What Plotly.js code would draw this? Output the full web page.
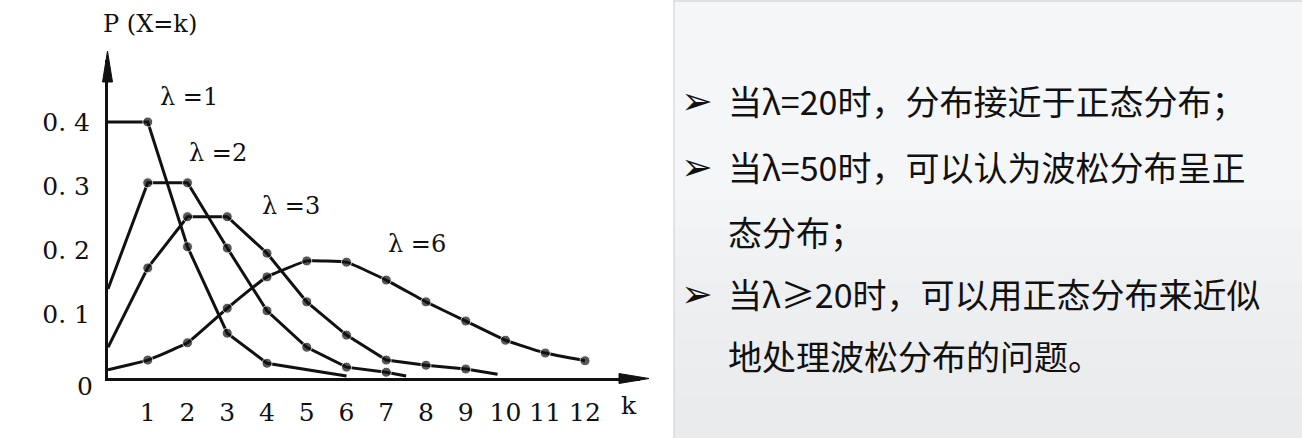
<!DOCTYPE html>
<html>
<head>
<meta charset="utf-8">
<script src="https://cdn.plot.ly/plotly-3.0.1.min.js"></script>
<style>
html,body{margin:0;padding:0;background:#ffffff;}
#chart{width:1302px;height:438px;}
</style>
</head>
<body>
<div id="chart"></div>
<script>
// ---- data ----
const lam1K = [0, 1, 2, 3, 4, 6];
const lam1P = [0.400, 0.400, 0.205, 0.070, 0.023, 0.003];
const lam2K = [0, 1, 2, 3, 4, 5, 6, 7, 7.5];
const lam2P = [0.139, 0.305, 0.305, 0.203, 0.105, 0.048, 0.017, 0.009, 0.003];
const lam3K = [0, 1, 2, 3, 4, 5, 6, 7, 8, 9, 9.8];
const lam3P = [0.048, 0.172, 0.252, 0.252, 0.195, 0.119, 0.067, 0.028, 0.020, 0.014, 0.006];
const lam6K = [0, 1, 2, 3, 4, 5, 6, 7, 8, 9, 10, 11, 12];
const lam6P = [0.013, 0.028, 0.055, 0.109, 0.158, 0.183, 0.181, 0.153, 0.119, 0.089, 0.059, 0.039, 0.027];
const curveNames = ["λ =1", "λ =2", "λ =3", "λ =6"];
const xTickVals = [1, 2, 3, 4, 5, 6, 7, 8, 9, 10, 11, 12];
const xTickText = ["1", "2", "3", "4", "5", "6", "7", "8", "9", "10", "11", "12"];
const yTickVals = [0.1, 0.2, 0.3, 0.4];
const yTickText = ["0. 1", "0. 2", "0. 3", "0. 4"];
const bulletLines = [
  "当λ=20时，分布接近于正态分布；",
  "当λ=50时，可以认为波松分布呈正",
  "态分布；",
  "当λ≥20时，可以用正态分布来近似",
  "地处理波松分布的问题。"
];
const hasBullet = [true, true, false, true, false];

// ---- layout geometry (pixels) ----
const W = 1302, H = 438;
const L = 108, R = 640, T = 60, B = 378;
const px = x => (x - L) / (R - L);
const py = y => (B - y) / (B - T);

function curve(k, p, tail, shape) {
  const last = k.length - 1;
  return {
    x: k, y: p, type: 'scatter', mode: 'lines+markers',
    line: {color: '#111111', width: 3, shape: shape || 'linear', smoothing: 0.3},
    marker: {color: '#111111', size: k.map((v, i) => (i === 0 || (tail && i === last)) ? 0 : 10)},
    hoverinfo: 'skip', showlegend: false, cliponaxis: false
  };
}

const traces = [
  curve(lam1K, lam1P, true),
  curve(lam2K, lam2P, true),
  curve(lam3K, lam3P, true),
  curve(lam6K, lam6P, false, 'spline')
];

const serif = 'DejaVu Serif, Liberation Serif, serif';
const cjk = 'Noto Sans CJK SC, sans-serif';

const annotations = [];
annotations.push({xref: 'paper', yref: 'paper', x: px(150), y: py(24), text: 'P (X=k)', showarrow: false,
  font: {family: serif, size: 24, color: '#111'}, xanchor: 'center', yanchor: 'middle'});
annotations.push({xref: 'paper', yref: 'paper', x: px(629), y: py(405), text: 'k', showarrow: false,
  font: {family: serif, size: 25, color: '#111'}, xanchor: 'center', yanchor: 'middle'});
annotations.push({xref: 'paper', yref: 'paper', x: px(85), y: py(386), text: '0', showarrow: false,
  font: {family: serif, size: 25, color: '#111'}, xanchor: 'center', yanchor: 'middle'});
const labelPos = [[189, 97], [218, 153], [291, 206], [417, 244]];
curveNames.forEach((t, i) => {
  annotations.push({xref: 'paper', yref: 'paper', x: px(labelPos[i][0]), y: py(labelPos[i][1]), text: t,
    showarrow: false, font: {family: serif, size: 24, color: '#111'}, xanchor: 'center', yanchor: 'middle'});
});
const lineY = [100, 166, 231, 293, 355];
bulletLines.forEach((t, i) => {
  if (hasBullet[i]) {
    annotations.push({xref: 'paper', yref: 'paper', x: px(679), y: py(lineY[i] + 1), text: '➢', showarrow: false,
      font: {family: 'DejaVu Sans, sans-serif', size: 38, color: '#111'}, xanchor: 'left', yanchor: 'middle'});
  }
  annotations.push({xref: 'paper', yref: 'paper', x: px(726), y: py(lineY[i]), text: t, showarrow: false,
    font: {family: cjk, size: 34, color: '#111'}, xanchor: 'left', yanchor: 'middle'});
});

const shapes = [
  {type: 'rect', xref: 'paper', yref: 'paper', x0: px(674), x1: px(W), y0: py(H), y1: py(0),
    fillcolor: '#f4f6f8', line: {width: 0}, layer: 'below'}
];
for (let i = 0; i < 8; i++) {
  shapes.push({type: 'rect', xref: 'paper', yref: 'paper', x0: px(674), x1: px(W),
    y0: py(H), y1: py(200 + i * 28), fillcolor: '#e6e9e4', opacity: 0.07, line: {width: 0}, layer: 'below'});
}
shapes.push(
  {type: 'line', xref: 'paper', yref: 'paper', x0: px(674), x1: px(674), y0: py(H), y1: py(0),
    line: {color: '#d9dde2', width: 1.5}},
  {type: 'line', xref: 'paper', yref: 'paper', x0: px(674), x1: px(W), y0: py(1), y1: py(1),
    line: {color: '#dde1e6', width: 2}},
  {type: 'path', xref: 'paper', yref: 'paper',
    path: `M ${px(649)},${py(378.5)} L ${px(619)},${py(373.5)} L ${px(619)},${py(383.5)} Z`,
    fillcolor: '#111', line: {color: '#111', width: 1}},
  {type: 'path', xref: 'paper', yref: 'paper',
    path: `M ${px(107.5)},${py(51)} L ${px(102.5)},${py(82)} L ${px(112.5)},${py(82)} Z`,
    fillcolor: '#111', line: {color: '#111', width: 1}}
);

const layout = {
  width: W, height: H,
  margin: {l: L, r: W - R, t: T, b: H - B, pad: 0},
  paper_bgcolor: '#ffffff', plot_bgcolor: 'rgba(0,0,0,0)',
  xaxis: {range: [0, (R - L) / 39.75], showgrid: false, zeroline: false, showline: true,
    linecolor: '#111', linewidth: 3, ticks: '', tickvals: xTickVals, ticktext: xTickText,
    tickfont: {family: serif, size: 25, color: '#111'}, ticklabelstandoff: 10, fixedrange: true},
  yaxis: {range: [0, (B - T) / 640], showgrid: false, zeroline: false, showline: true,
    linecolor: '#111', linewidth: 3, ticks: '', tickvals: yTickVals, ticktext: yTickText,
    tickfont: {family: serif, size: 25, color: '#111'}, ticklabelstandoff: 10, fixedrange: true},
  annotations: annotations,
  shapes: shapes,
  showlegend: false
};

Plotly.newPlot('chart', traces, layout, {staticPlot: true, displayModeBar: false});
</script>
</body>
</html>
